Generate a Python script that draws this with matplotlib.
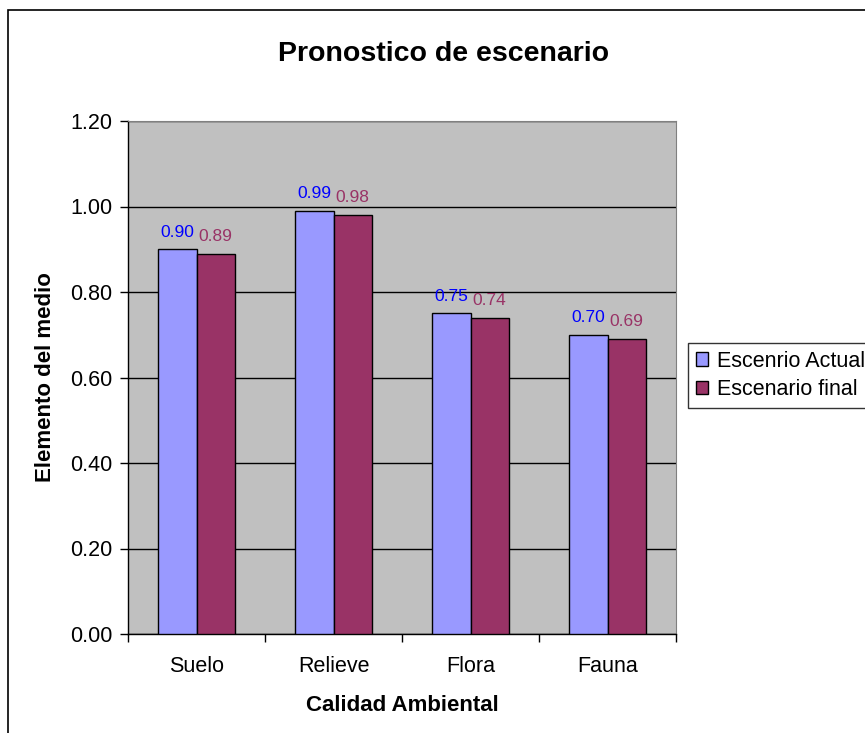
#!/usr/bin/env python
# -*- coding: utf-8 -*-

import matplotlib
matplotlib.use('Agg')

import numpy as np
from matplotlib import pyplot as plt
from matplotlib.patches import Rectangle

categories = ["Suelo", "Relieve", "Flora", "Fauna"]
actual = [0.90, 0.99, 0.75, 0.70]
final = [0.89, 0.98, 0.74, 0.69]
series_names = ["Escenrio Actual", "Escenario final"]
yticks = [0.0, 0.2, 0.4, 0.6, 0.8, 1.0, 1.2]

plt.rcParams['font.family'] = ['Liberation Sans', 'DejaVu Sans']


def plot_chart():

    fig = plt.figure(figsize=(8.65, 7.33), dpi=100)
    # outer frame (cut off on the right and bottom like the original)
    fig.patches.append(Rectangle((8 / 865, -0.1), 1.2, 1 - 10 / 733 + 0.1,
                                 transform=fig.transFigure, fill=False,
                                 edgecolor='black', linewidth=1.2))

    ax = fig.add_axes([128 / 865, 1 - 634 / 733, 548 / 865, 513 / 733])
    ax.set_facecolor('#C0C0C0')

    x = np.arange(len(categories))
    w = 0.28
    b1 = ax.bar(x - w / 2, actual, w, color='#9999FF', edgecolor='black',
                linewidth=1, label=series_names[0], zorder=3)
    b2 = ax.bar(x + w / 2, final, w, color='#993366', edgecolor='black',
                linewidth=1, label=series_names[1], zorder=3)

    for rect, v in zip(b1, actual):
        ax.annotate("%.2f" % v, (rect.get_x() + rect.get_width() / 2, v),
                    xytext=(0, 7), textcoords='offset points', ha='center',
                    va='bottom', fontsize=12.5, color='#0000FF')
    for rect, v in zip(b2, final):
        ax.annotate("%.2f" % v, (rect.get_x() + rect.get_width() / 2, v),
                    xytext=(0, 7), textcoords='offset points', ha='center',
                    va='bottom', fontsize=12.5, color='#993366')

    ax.set_xlim(-0.5, len(categories) - 0.5)
    ax.set_ylim(0, 1.2)
    ax.set_yticks(yticks)
    ax.set_yticklabels(["%.2f" % t for t in yticks], fontsize=15.5)
    ax.yaxis.grid(True, color='black', linewidth=1, zorder=1)
    ax.set_axisbelow(True)

    ax.set_xticks(x)
    ax.set_xticklabels(categories, fontsize=15.5)
    ax.set_xticks(np.arange(len(categories) + 1) - 0.5, minor=True)
    ax.tick_params(axis='x', which='major', length=0, pad=16)
    ax.tick_params(axis='x', which='minor', length=6, width=1, color='black')
    ax.tick_params(axis='y', length=6, width=1, color='black', pad=5)

    ax.spines['top'].set_color('#808080')
    ax.spines['right'].set_color('#808080')
    ax.spines['left'].set_linewidth(1)
    ax.spines['bottom'].set_linewidth(1)

    ax.set_xlabel("Calidad Ambiental", fontsize=16, fontweight='bold', labelpad=13)
    ax.set_ylabel("Elemento del medio", fontsize=16, fontweight='bold', labelpad=10)
    fig.text(444 / 865, 1 - 54 / 733, "Pronostico de escenario", fontsize=20.5,
             fontweight='bold', ha='center', va='center')

    leg = fig.legend(loc='upper left', bbox_to_anchor=(688 / 865, 1 - 343 / 733),
                     fontsize=15.5, frameon=True, fancybox=False, handlelength=0.6,
                     handleheight=0.6, handletextpad=0.4, borderpad=0.35,
                     labelspacing=0.35, borderaxespad=0)
    leg.get_frame().set_edgecolor('black')
    leg.get_frame().set_linewidth(1)

    plt.savefig('out.png', dpi=100)
    return 0


if __name__ == "__main__":
    plot_chart()
